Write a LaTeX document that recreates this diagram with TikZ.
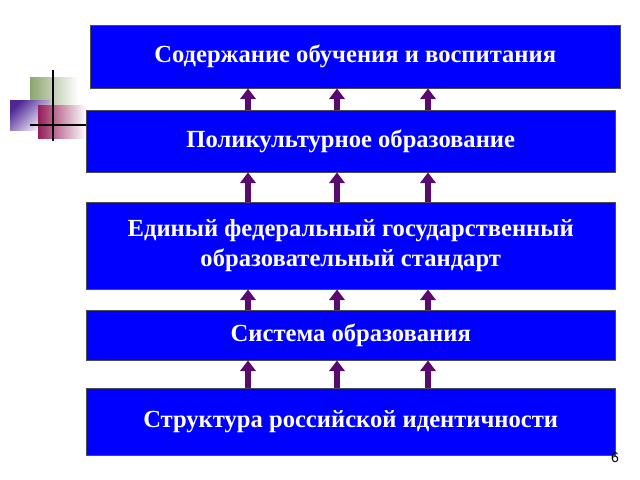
\documentclass[tikz,border=0pt]{standalone}
\usepackage{fontspec}
\setmainfont{Liberation Serif}
\setsansfont{Liberation Sans}
\usetikzlibrary{arrows.meta}
\definecolor{boxblue}{RGB}{0,0,255}
\definecolor{arrowpurple}{RGB}{90,10,110}
\definecolor{sqgreen}{RGB}{140,165,110}
\definecolor{sqviolet}{RGB}{80,40,150}
\definecolor{sqmaroon}{RGB}{150,30,90}
\tikzset{
  level/.style={draw=black!70,fill=boxblue,text=white,font=\fontsize{21}{26}\selectfont\bfseries,align=center,anchor=north west,inner sep=0pt},
  up/.style={draw=arrowpurple,line width=4.5pt,-{Triangle[width=13pt,length=9pt]}}
}
\begin{document}
\begin{tikzpicture}[x=0.03cm,y=-0.03cm]
\useasboundingbox (0,0) rectangle (640,480);

%corner squares
\shade [left color=sqgreen,right color=white] (30,78) rectangle (78,120);
\shade [left color=sqviolet,right color=white,shading angle=45] (10,101) rectangle (50,131);
\shade [left color=sqmaroon,right color=white] (38,106) rectangle (86,139);
\draw [line width=1.2pt] (53,70) -- (53,141);
\draw [line width=1.2pt] (30,125) -- (86,125);

%levels
\node [level,minimum width=530*0.03cm,minimum height=63*0.03cm] (s1) at (90,25) {Содержание обучения и воспитания};
\node [level,minimum width=529*0.03cm,minimum height=62*0.03cm] (s2) at (86,110) {Поликультурное образование};
\node [level,minimum width=529*0.03cm,minimum height=87*0.03cm] (s3) at (86,202) {Единый федеральный государственный\\образовательный стандарт};
\node [level,minimum width=529*0.03cm,minimum height=50*0.03cm] (s4) at (86,310) {Система образования};
\node [level,minimum width=529*0.03cm,minimum height=67*0.03cm] (s5) at (86,388) {Структура российской идентичности};

%arrows
\foreach \x in {248,337,428}{
  \draw [up] (s2.north -| \x,0) -- (s1.south -| \x,0);
  \draw [up] (s3.north -| \x,0) -- (s2.south -| \x,0);
  \draw [up] (s4.north -| \x,0) -- (s3.south -| \x,0);
  \draw [up] (s5.north -| \x,0) -- (s4.south -| \x,0);
}

%page number
\node [font=\sffamily\large] (pg) at (615,458) {6};
\end{tikzpicture}
\end{document}
